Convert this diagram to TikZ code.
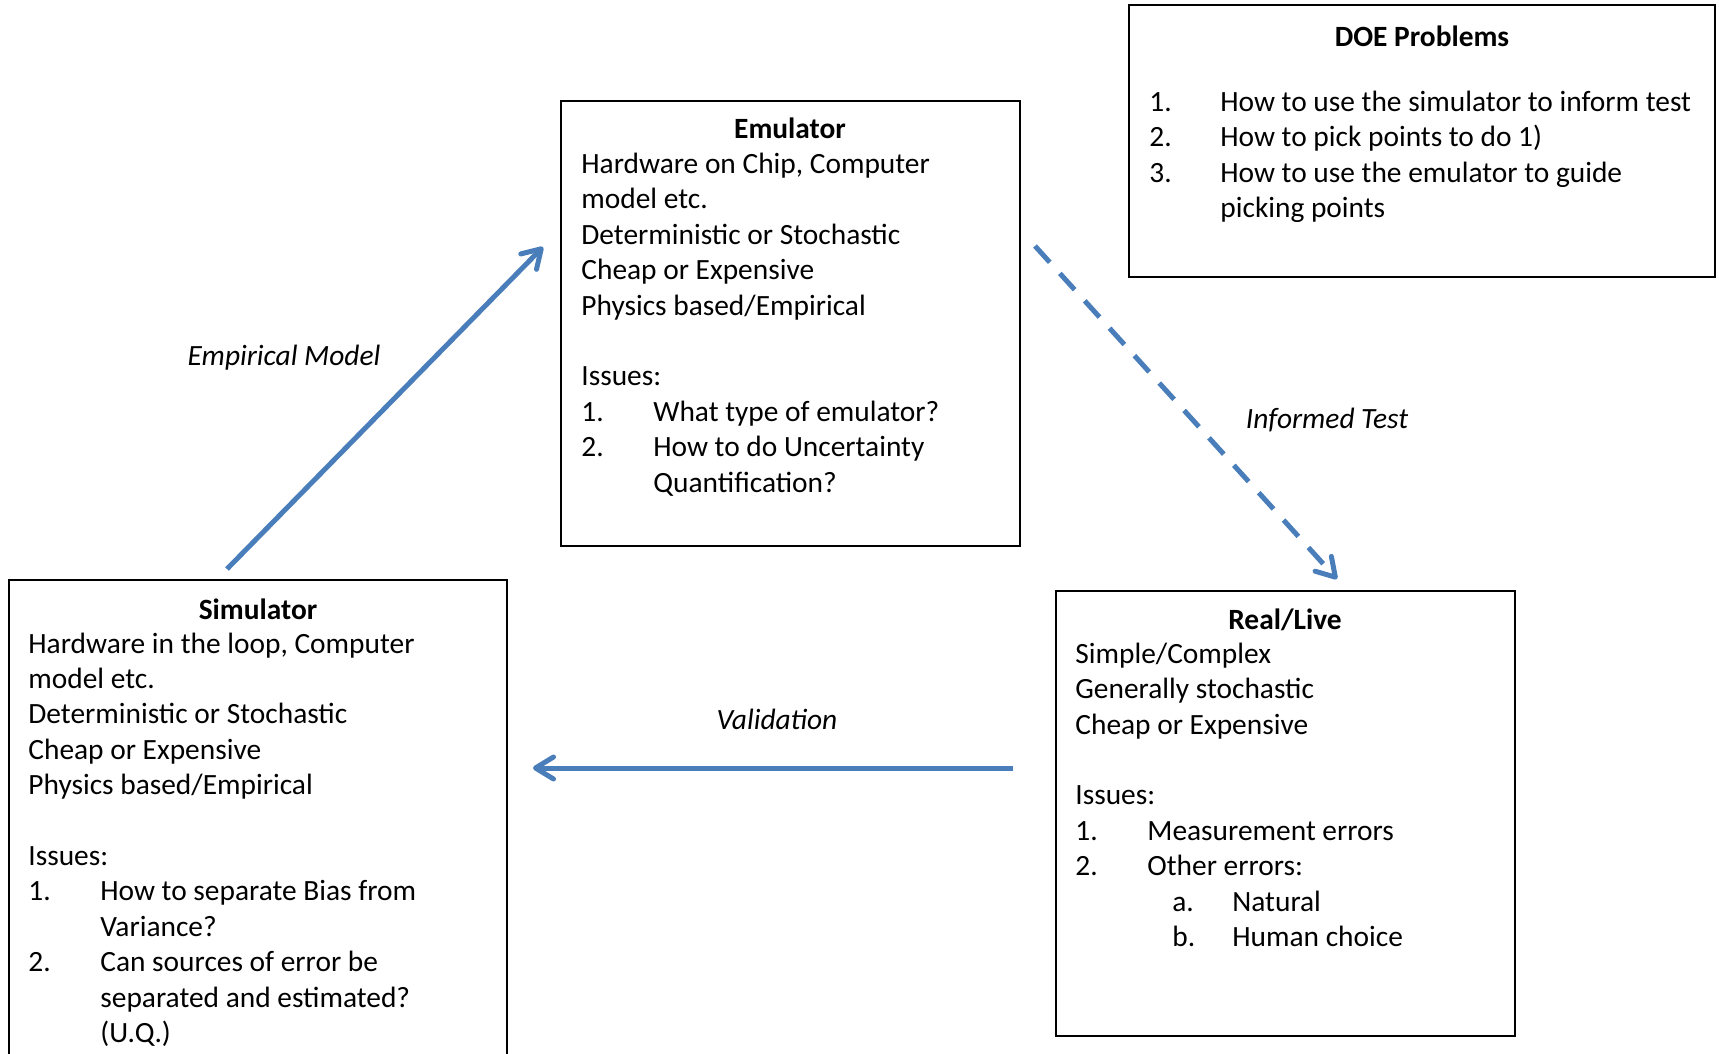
\documentclass[tikz,border=0pt]{standalone}
\usepackage{fontspec}
\setmainfont{Carlito}
\usetikzlibrary{arrows.meta,fit}
\definecolor{arrowblue}{RGB}{74,126,187}
\newcommand\fsz{\fontsize{14.7}{17.7}\selectfont}
\newcommand\nb[1]{\makebox[36pt][l]{#1}}
\newcommand\hang{\hspace*{36pt}}
\begin{document}
\begin{tikzpicture}[x=0.5pt,y=-0.5pt,
 box/.style={draw=black, line width=0.75pt, inner sep=0pt},
 boxtitle/.style={font=\fsz\bfseries, anchor=base, inner sep=0pt},
 boxbody/.style={font=\fsz, align=left, anchor=base west, inner sep=0pt},
 lbl/.style={font=\fsz\itshape, anchor=base, inner sep=0pt},
 flow/.style={draw=arrowblue, line width=2.5pt, -{Straight Barb[length=9pt,width=11pt,round]}},
]
\clip (0,0) rectangle (1719,1054);
% boxes
\node[box, fit={(9,580) (507,1075)}] (sim) {};
\node[box, fit={(561,101) (1020,546)}] (emu) {};
\node[box, fit={(1129,5) (1715,277)}] (doe) {};
\node[box, fit={(1056,591) (1515,1036)}] (real) {};
% simulator (body anchored at baseline of its last line)
\node[boxtitle] (simT) at (258,619) {Simulator};
\node[boxbody] (simB) at (28,1042.5) {Hardware in the loop, Computer\\
model etc.\\
Deterministic or Stochastic\\
Cheap or Expensive\\
Physics based/Empirical\\[17.7pt]
Issues:\\
\nb{1.}How to separate Bias from\\
\hang Variance?\\
\nb{2.}Can sources of error be\\
\hang separated and estimated?\\
\hang (U.Q.)};
% emulator
\node[boxtitle] (emuT) at (790,139) {Emulator};
\node[boxbody] (emuB) at (581,492) {Hardware on Chip, Computer\\
model etc.\\
Deterministic or Stochastic\\
Cheap or Expensive\\
Physics based/Empirical\\[17.7pt]
Issues:\\
\nb{1.}What type of emulator?\\
\nb{2.}How to do Uncertainty\\
\hang Quantification?};
% real/live
\node[boxtitle] (realT) at (1285,629) {Real/Live};
\node[boxbody] (realB) at (1075,946.5) {Simple/Complex\\
Generally stochastic\\
Cheap or Expensive\\[17.7pt]
Issues:\\
\nb{1.}Measurement errors\\
\nb{2.}Other errors:\\
\hspace*{48.5pt}\makebox[30pt][l]{a.}Natural\\
\hspace*{48.5pt}\makebox[30pt][l]{b.}Human choice};
% DOE
\node[boxtitle] (doeT) at (1422,47) {DOE Problems};
\node[boxbody] (doeB) at (1149,217.5) {\makebox[35.5pt][l]{1.}How to use the simulator to inform test\\
\makebox[35.5pt][l]{2.}How to pick points to do 1)\\
\makebox[35.5pt][l]{3.}How to use the emulator to guide\\
\hspace*{35.5pt}picking points};
% arrow end points
\coordinate (a1s) at (227,569);
\coordinate (a1e) at (543,247);
\coordinate (a2s) at (1035,246);
\coordinate (a2e) at (1337,579);
\coordinate (a3s) at (1013,768);
\coordinate (a3e) at (533,768);
\draw[flow] (a1s) -- (a1e);
\draw[flow, dash pattern=on 11pt off 7.5pt] (a2s) -- (a2e);
\draw[flow] (a3s) -- (a3e);
% labels
\node[lbl] (l1) at (284,365) {Empirical Model};
\node[lbl] (l2) at (1327,428) {Informed Test};
\node[lbl] (l3) at (777,729) {Validation};
\end{tikzpicture}
\end{document}
